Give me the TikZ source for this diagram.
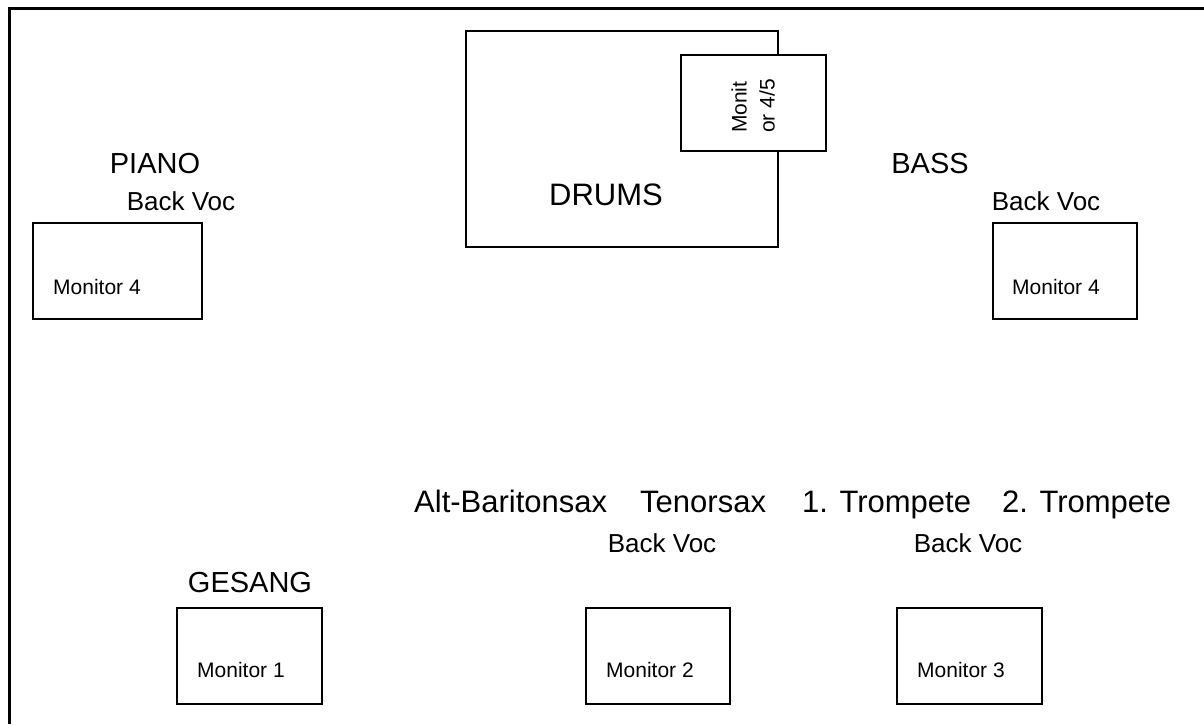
\documentclass[tikz,border=0pt]{standalone}
\usepackage{fontspec}
\setmainfont{Liberation Sans}
\tikzset{
  monbox/.style={draw=black,line width=2pt,fill=white},
  bigtext/.style={font=\fontsize{31}{36}\selectfont,anchor=base,inner sep=0pt},
  nametext/.style={font=\fontsize{29}{34}\selectfont,anchor=base,inner sep=0pt},
  midtext/.style={font=\fontsize{26}{30}\selectfont,anchor=base,inner sep=0pt},
  smalltext/.style={font=\fontsize{21}{25}\selectfont,anchor=base west,inner sep=0pt}
}
\begin{document}
\begin{tikzpicture}[x=1pt,y=-1pt]
        \useasboundingbox (0,0) rectangle (1204,724);
        % stage edge
        \draw[line width=2.5pt] (9.5,724) -- (9.5,8.5) -- (1204,8.5);
        % drums and its monitor
        \draw[monbox] (466,31) rectangle (778,247);
        \node[bigtext] (drums) at (606,205) {DRUMS};
        \draw[monbox] (681,55) rectangle (826,151);
        \node[rotate=90,align=left,inner sep=0pt,font=\fontsize{21}{28}\selectfont] (drummon) at (753,106) {Monit\\or 4/5};
        % piano
        \node[nametext] (piano) at (155,173) {PIANO};
        \node[midtext] (pianovoc) at (181,210) {Back Voc};
        \draw[monbox] (33,223) rectangle (202,319);
        \node[smalltext] (pianomon) at (53,294) {Monitor 4};
        % bass
        \node[nametext] (bass) at (930,173) {BASS};
        \node[midtext] (bassvoc) at (1046,210) {Back Voc};
        \draw[monbox] (993,223) rectangle (1137,319);
        \node[smalltext] (bassmon) at (1012,294) {Monitor 4};
        % horns
        \node[bigtext,anchor=base west] (altsax) at (414,512) {Alt-Baritonsax};
        \node[bigtext,anchor=base west] (tenorsax) at (640,512) {Tenorsax};
        \node[bigtext,anchor=base west] (trp1) at (802,512) {1. Trompete};
        \node[bigtext,anchor=base west] (trp2) at (1002,512) {2. Trompete};
        \node[midtext] (tenorvoc) at (662,552) {Back Voc};
        \node[midtext] (trpvoc) at (968,552) {Back Voc};
        % vocals
        \node[nametext] (gesang) at (250,592) {GESANG};
        \draw[monbox] (177,608) rectangle (322,704);
        \node[smalltext] (mon1) at (197,677) {Monitor 1};
        \draw[monbox] (586,608) rectangle (730,704);
        \node[smalltext] (mon2) at (606,677) {Monitor 2};
        \draw[monbox] (897,608) rectangle (1042,704);
        \node[smalltext] (mon3) at (917,677) {Monitor 3};
\end{tikzpicture}
\end{document}
